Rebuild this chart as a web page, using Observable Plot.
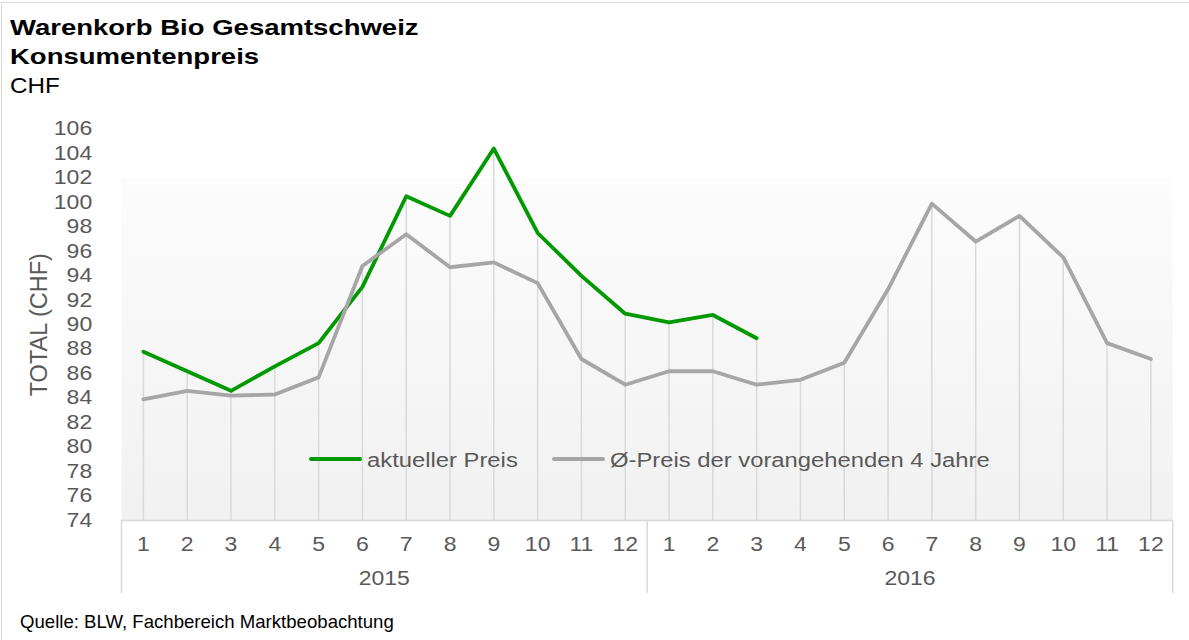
<!DOCTYPE html>
<html>
<head>
<meta charset="utf-8">
<script src="https://cdn.jsdelivr.net/npm/d3@7"></script>
<script src="https://cdn.jsdelivr.net/npm/@observablehq/plot@0.6"></script>
<style>
html, body { margin: 0; padding: 0; background: #fff; }
#wrap { position: relative; width: 1189px; height: 640px; overflow: hidden; font-family: "Liberation Sans", Arial, sans-serif; }
.frameborder { position: absolute; left: 1px; top: 2px; width: 1400px; height: 900px; border-left: 1px solid #d9d9d9; border-top: 1px solid #d9d9d9; }
.t { position: absolute; white-space: nowrap; transform-origin: 0 0; }
.sw { position: absolute; height: 4px; border-radius: 2px; }
#chart { position: absolute; left: 0; top: 100px; }
</style>
</head>
<body>
<div id="wrap">
  <div class="frameborder"></div>
  <div class="t" style="left:10px;top:17px;font-weight:bold;font-size:22px;line-height:22px;color:#000;transform:scaleX(1.25)">Warenkorb Bio Gesamtschweiz</div>
  <div class="t" style="left:10px;top:46.4px;font-weight:bold;font-size:22px;line-height:22px;color:#000;transform:scaleX(1.25)">Konsumentenpreis</div>
  <div class="t" style="left:10px;top:75.4px;font-size:22px;line-height:22px;color:#000;transform:scaleX(1.1)">CHF</div>
  <div id="chart"></div>
  <div id="legend"></div>
  <div class="t" style="left:20px;top:612.5px;font-size:18.6px;line-height:18.6px;color:#000">Quelle: BLW, Fachbereich Marktbeobachtung</div>
</div>
<script>
// ---- data ----
const years = ["2015", "2016"];
const months = ["1", "2", "3", "4", "5", "6", "7", "8", "9", "10", "11", "12"];
const seriesNames = ["aktueller Preis", "Ø-Preis der vorangehenden 4 Jahre"];
const seriesColors = ["#009900", "#a6a6a6"];
const aktuellerPreis = [87.8, 86.2, 84.6, 86.6, 88.5, 93.1, 100.5, 98.9, 104.4, 97.5, 94.0, 90.9,
                        90.2, 90.8, 88.9];
const durchschnittPreis = [83.9, 84.6, 84.2, 84.3, 85.7, 94.8, 97.4, 94.7, 95.1, 93.4, 87.2, 85.1,
                           86.2, 86.2, 85.1, 85.5, 86.9, 92.9, 99.9, 96.8, 98.9, 95.5, 88.5, 87.2];
const yTicks = [74, 76, 78, 80, 82, 84, 86, 88, 90, 92, 94, 96, 98, 100, 102, 104, 106];
const yLabel = "TOTAL (CHF)";

// ---- derived tables ----
const periods = years.flatMap((y, yi) => months.map((m, mi) => ({ i: yi * months.length + mi, year: y, month: m })));
const greenRows = aktuellerPreis.map((v, i) => ({ i, v }));
const grayRows = durchschnittPreis.map((v, i) => ({ i, v }));
const yMin = yTicks[0], yMax = yTicks[yTicks.length - 1];
const drops = periods.map(p => ({ i: p.i, top: d3.max([aktuellerPreis[p.i], durchschnittPreis[p.i]]) }));
const yearRows = years.map(y => {
  const ps = periods.filter(p => p.year === y);
  return { year: y, center: d3.mean(ps, p => p.i), start: d3.min(ps, p => p.i) - 0.5, end: d3.max(ps, p => p.i) + 0.5 };
});
const boundaries = Array.from(new Set(yearRows.flatMap(r => [r.start, r.end])));

const FONT = '"Liberation Sans", Arial, sans-serif';
const svg = Plot.plot({
  width: 1189,
  height: 510,
  marginLeft: 121,
  marginRight: 16.7,
  marginTop: 28.5,
  marginBottom: 90,
  style: { fontFamily: FONT, fontSize: "19.5px", color: "#595959", background: "transparent", overflow: "visible" },
  x: { type: "linear", domain: [-0.5, periods.length - 0.5] },
  y: { domain: [yMin, yMax] },
  marks: [
    Plot.frame({ fill: "url(#plotBg)", stroke: "none" }),
    Plot.ruleX(drops, { x: "i", y1: "top", y2: yMin, stroke: "#d9d9d9", strokeWidth: 1.5 }),
    Plot.ruleY([yMin], { stroke: "#d9d9d9", strokeWidth: 1.5 }),
    Plot.ruleX(boundaries, { y1: yMin, y2: yMin, insetBottom: -73, stroke: "#d9d9d9", strokeWidth: 1.5 }),
    Plot.line(greenRows, { x: "i", y: "v", stroke: seriesColors[0], strokeWidth: 3.8, strokeLinejoin: "round", strokeLinecap: "round" }),
    Plot.line(grayRows, { x: "i", y: "v", stroke: seriesColors[1], strokeWidth: 3.8, strokeLinejoin: "round", strokeLinecap: "round" }),
    Plot.axisY({ ticks: yTicks, tickSize: 0, tickPadding: 29.3, label: null }),
    Plot.axisX({ ticks: periods.map(p => p.i), tickFormat: i => periods[i].month, tickSize: 0, tickPadding: 16.4, label: null }),
    Plot.text(yearRows, { x: "center", y: yMin, text: "year", dy: 58.7, fill: "#595959" }),
    Plot.text([yLabel], { frameAnchor: "left", textAnchor: "middle", rotate: -90, dx: -82.5, fontSize: 23.5, fill: "#595959" })
  ]
});

// gradient background of the plot area
d3.select(svg).insert("defs", ":first-child").html(
  '<linearGradient id="plotBg" x1="0" y1="0" x2="0" y2="1">' +
  '<stop offset="0" stop-color="#ffffff"/>' +
  '<stop offset="0.123" stop-color="#ffffff"/>' +
  '<stop offset="0.125" stop-color="#fcfcfc"/>' +
  '<stop offset="1" stop-color="#f1f1f1"/>' +
  '</linearGradient>'
);

// horizontally widened lettering (as in the reference)
d3.select(svg).selectAll("text").each(function () {
  let t = this.getAttribute("transform") || "";
  if (t.includes("rotate")) return;
  if (!t) {
    const x = this.getAttribute("x") || 0, y = this.getAttribute("y") || 0;
    this.removeAttribute("x"); this.removeAttribute("y");
    t = `translate(${x},${y})`;
  }
  this.setAttribute("transform", t + " scale(1.18,1)");
});

document.getElementById("chart").appendChild(svg);

// legend (inside the plot area, as in the reference)
const legend = document.getElementById("legend");
const legendItems = [
  { name: seriesNames[0], color: seriesColors[0], sw: 309, tx: 366.7 },
  { name: seriesNames[1], color: seriesColors[1], sw: 551.7, tx: 610 }
];
legendItems.forEach(it => {
  const s = document.createElement("div");
  s.className = "sw";
  s.style.left = it.sw + "px";
  s.style.top = "457.3px";
  s.style.width = "53px";
  s.style.background = it.color;
  legend.appendChild(s);
  const t = document.createElement("div");
  t.className = "t";
  t.textContent = it.name;
  t.style.left = it.tx + "px";
  t.style.top = "449.8px";
  t.style.fontSize = "20px";
  t.style.lineHeight = "20px";
  t.style.color = "#595959";
  t.style.transform = "scaleX(1.19)";
  legend.appendChild(t);
});
</script>
</body>
</html>
